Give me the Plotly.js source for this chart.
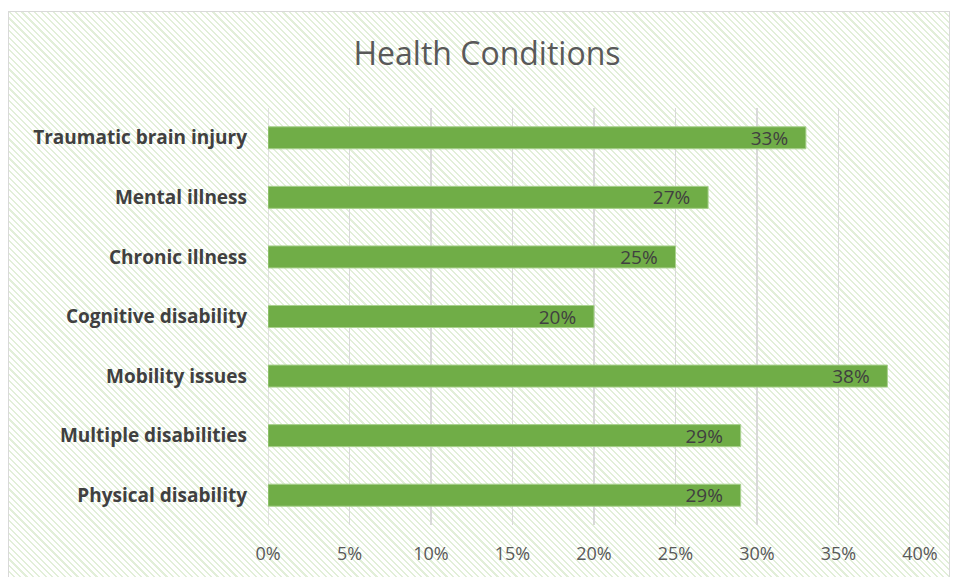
<!DOCTYPE html>
<html>
<head>
<meta charset="utf-8">
<script src="https://cdn.plot.ly/plotly-3.0.1.min.js"></script>
<style>
  html, body { margin: 0; padding: 0; background: #ffffff; }
  #wrap { position: relative; width: 954px; height: 577px; overflow: hidden; }
  #bg {
    position: absolute; left: 8px; top: 11px; width: 940px; height: 565px;
    border: 1px solid #d9d9d9;
    background: repeating-linear-gradient(45deg, #ffffff 0px, #ffffff 3px, #e2efd9 3px, #e2efd9 4.5px);
  }
  #chart { position: absolute; left: 0; top: 0; width: 954px; height: 577px; }
</style>
</head>
<body>
<div id="wrap">
  <div id="bg"></div>
  <div id="chart"></div>
</div>
<script>
const categories = ["Traumatic brain injury", "Mental illness", "Chronic illness", "Cognitive disability", "Mobility issues", "Multiple disabilities", "Physical disability"];
const values = [0.33, 0.27, 0.25, 0.20, 0.38, 0.29, 0.29];
const labels = ["33%", "27%", "25%", "20%", "38%", "29%", "29%"];
const tickVals = [0, 0.05, 0.10, 0.15, 0.20, 0.25, 0.30, 0.35, 0.40];
const tickText = ["0%", "5%", "10%", "15%", "20%", "25%", "30%", "35%", "40%"];

const trace = {
  type: "bar",
  orientation: "h",
  y: categories,
  x: values,
  text: labels,
  texttemplate: "%{text}\u00a0\u00a0\u00a0",
  textposition: "inside",
  insidetextanchor: "end",
  constraintext: "none",
  textangle: 0,
  textfont: { family: "'Open Sans', sans-serif", size: 19, color: "#404040" },
  marker: { color: "#70ad47", line: { color: "#a9d18e", width: 1 } },
  hoverinfo: "none",
  cliponaxis: false
};

const layout = {
  width: 954, height: 577,
  paper_bgcolor: "rgba(0,0,0,0)",
  plot_bgcolor: "rgba(0,0,0,0)",
  margin: { l: 268, r: 34, t: 108, b: 52 },
  bargap: 0.63,
  showlegend: false,
  title: {
    text: "Health Conditions",
    x: 0.5105, xref: "container", xanchor: "center",
    y: 0.906, yref: "container", yanchor: "middle",
    font: { family: "'Open Sans', sans-serif", size: 32, color: "#595959" }
  },
  xaxis: {
    range: [0, 0.40],
    tickvals: tickVals, ticktext: tickText,
    showgrid: true, gridcolor: "#d9d9d9", gridwidth: 1.5,
    zeroline: false, showline: false,
    ticks: "", ticklabelstandoff: 16,
    tickfont: { family: "'Open Sans', sans-serif", size: 18, color: "#595959" },
    fixedrange: true
  },
  yaxis: {
    autorange: "reversed",
    showgrid: false, zeroline: false, showline: false,
    ticks: "", ticklabelstandoff: 20,
    tickfont: { family: "'Open Sans', sans-serif", size: 19, color: "#404040", weight: "bold" },
    fixedrange: true
  },
  shapes: [{
    type: "line", xref: "x", yref: "paper", x0: 0, x1: 0, y0: 0, y1: 1,
    line: { color: "#d9d9d9", width: 1.5 }, layer: "below"
  }]
};

Plotly.newPlot("chart", [trace], layout, { displayModeBar: false, staticPlot: true });
</script>
</body>
</html>
